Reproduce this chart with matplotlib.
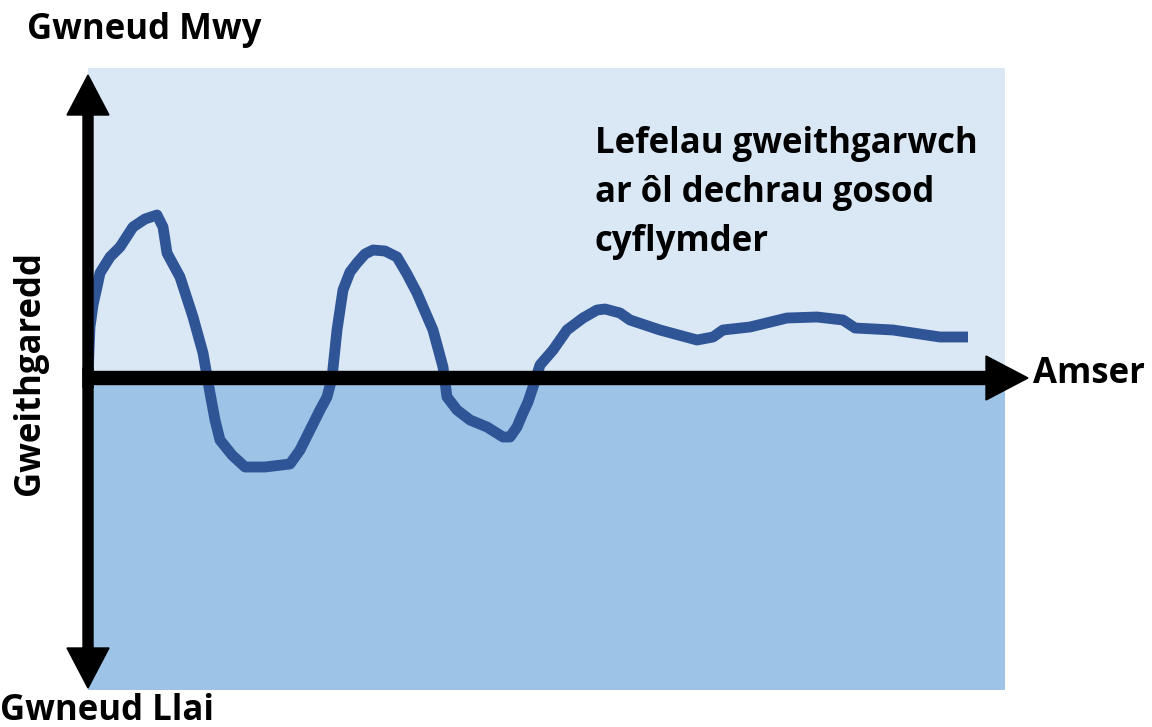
import matplotlib
matplotlib.use("Agg")
import matplotlib.pyplot as plt
from matplotlib.patches import Rectangle, FancyArrow

# Curve data: time (px from axis origin) and activity (px above the time axis)
time = ([0, 1, 2, 5, 9, 12, 22, 32, 45, 57, 69, 75, 79, 92, 105, 115, 122, 127, 132, 144]
        + [157, 177, 202, 212, 222, 232, 239, 244, 249, 255, 262, 269, 277, 285]
        + [297, 309, 319, 329, 345, 355, 359, 369, 382, 399, 415, 422, 429, 434, 440, 445]
        + [452, 465, 479, 495, 509, 517, 532, 542, 572, 609, 625, 635, 662, 699, 729,
           755, 767, 805, 852, 880])
activity = ([0, 28, 51, 73, 91, 105, 121, 131, 151, 159, 163, 151, 125, 101, 61, 25, -15, -42, -62, -77]
            + [-89, -89, -86, -72, -52, -32, -19, 0, 48, 88, 106, 115, 124, 128]
            + [127, 121, 104, 85, 48, 11, -19, -32, -42, -49, -59, -59, -49, -37, -24, -9]
            + [13, 28, 48, 60, 68, 69, 65, 58, 48, 38, 41, 48, 51, 60, 61,
               58, 50, 48, 41, 41])

LIGHT = "#DAE7F5"
DARK = "#9DC3E6"
LINE = "#2F5597"
FONT = ["Open Sans", "DejaVu Sans"]

fig = plt.figure(figsize=(11.52, 7.27), dpi=100)
ax = fig.add_axes([0, 0, 1, 1])
ax.set_xlim(-88, 1152 - 88)
ax.set_ylim(378 - 727, 378)
ax.axis("off")

# background regions
ax.add_patch(Rectangle((0, 0), 917, 310, facecolor=LIGHT, edgecolor="none", zorder=0))
ax.add_patch(Rectangle((0, -312), 917, 312, facecolor=DARK, edgecolor="none", zorder=0))

# curve
ax.plot(time, activity, color=LINE, lw=7.8, solid_capstyle="butt",
        solid_joinstyle="round", zorder=2)

# vertical double-headed arrow
ax.add_patch(FancyArrow(0, -10, 0, 313, width=10, head_width=42, head_length=40,
                        length_includes_head=True, color="black", zorder=3))
ax.add_patch(FancyArrow(0, 10, 0, -320, width=10, head_width=42, head_length=40,
                        length_includes_head=True, color="black", zorder=3))
# horizontal arrow
ax.add_patch(FancyArrow(-4, 0, 944, 0, width=13, head_width=44, head_length=42,
                        length_includes_head=True, color="black", zorder=3))

kw = dict(fontfamily=FONT, fontweight="bold", color="black", fontsize=25)
ax.text(-61, 348, "Gwneud Mwy", ha="left", va="center", **kw)
ax.text(-88, -333, "Gwneud Llai", ha="left", va="center", **kw)
ax.text(-58, 5, "Gweithgaredd", ha="center", va="center", rotation=90, **kw)
ax.text(945, 4, "Amser", ha="left", va="center", **kw)
ax.text(507, 185, "Lefelau gweithgarwch\nar ôl dechrau gosod\ncyflymder",
        ha="left", va="center", linespacing=1.47, **kw)

fig.savefig("out.png", dpi=100)
